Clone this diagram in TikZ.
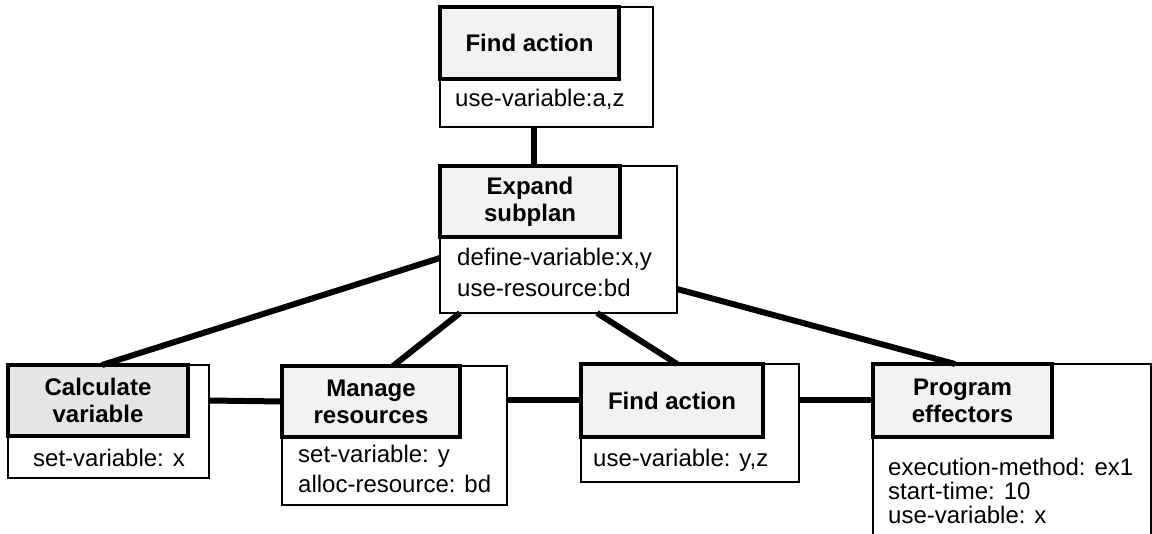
\documentclass[tikz,border=0pt]{standalone}
\usepackage{fontspec}
\setmainfont{Liberation Sans}
\usetikzlibrary{calc}
\newcommand\bfnt[1]{\fontsize{24}{#1}\selectfont}
\begin{document}
\begin{tikzpicture}[x=1pt,y=-1pt,
  outerbox/.style={draw, line width=2.5pt, anchor=north west, inner sep=0pt, outer sep=0pt},
  titlebox/.style={draw, line width=4.5pt, fill=gray!10, anchor=north west, inner sep=0pt, outer sep=0pt, align=center, font=\bfnt{27}\bfseries},
  body/.style={anchor=base west, inner sep=0pt, align=left, font=\bfnt{30}},
  conn/.style={line width=6pt, line cap=butt}]
\useasboundingbox (0,0) rectangle (1152,534);
\clip (0,0) rectangle (1152,534);
\fill[white] (0,0) rectangle (1152,534);

% top node
\node[outerbox, minimum width=213pt, minimum height=120pt] (top) at (440,7) {};
\node[titlebox, minimum width=179pt, minimum height=72pt] (topT) at (440,7) {Find action};
\node[body] (topB) at (455,107) {use-variable:a,z};

% middle node
\node[outerbox, minimum width=237pt, minimum height=147pt] (mid) at (440,166) {};
\node[titlebox, minimum width=180pt, minimum height=71pt] (midT) at (440,166) {Expand\\subplan};
\node[body, font=\bfnt{31}] (midB) at (457,297) {define-variable:x,y\\use-resource:bd};

% calculate variable
\node[outerbox, minimum width=201pt, minimum height=113pt] (calc) at (8,365) {};
\node[titlebox, minimum width=180pt, minimum height=71pt, fill=gray!20] (calcT) at (8,365) {Calculate\\variable};
\node[body] (calcB) at (33,467) {set-variable: x};

% manage resources
\node[outerbox, minimum width=225pt, minimum height=139pt] (man) at (282,366) {};
\node[titlebox, minimum width=178pt, minimum height=71pt] (manT) at (282,366) {Manage\\resources};
\node[body] (manB) at (298,493) {set-variable: y\\alloc-resource: bd};

% find action (bottom)
\node[outerbox, minimum width=218pt, minimum height=118pt] (find) at (581,364) {};
\node[titlebox, minimum width=182pt, minimum height=73pt] (findT) at (581,364) {Find action};
\node[body] (findB) at (593,467) {use-variable: y,z};

% program effectors
\node[outerbox, minimum width=278pt, minimum height=190pt] (prog) at (873,364) {};
\node[titlebox, minimum width=179pt, minimum height=73pt] (progT) at (873,364) {Program\\effectors};
\node[body, font=\bfnt{24}] (progB) at (888,523) {execution-method: ex1\\start-time: 10\\use-variable: x};

% connectors
\draw[conn] ([xshift=-12.5pt]top.south) -- ([xshift=-24.5pt]mid.north);
\draw[conn] ([yshift=-18.5pt]mid.west) -- ([xshift=-6.5pt]calc.north);
\draw[conn] ([xshift=-98.5pt]mid.south) -- ([xshift=-1.5pt]man.north);
\draw[conn] ([xshift=38.5pt]mid.south) -- ([xshift=-13pt]find.north);
\draw[conn] ([yshift=-49.5pt]mid.east) -- ([xshift=-57pt]prog.north);
\draw[conn] (calc.east |- calcT.east) -- (manT.west);
\draw[conn] (man.east |- findT.west) -- (findT.west);
\draw[conn] (find.east |- progT.west) -- (progT.west);
\end{tikzpicture}
\end{document}
